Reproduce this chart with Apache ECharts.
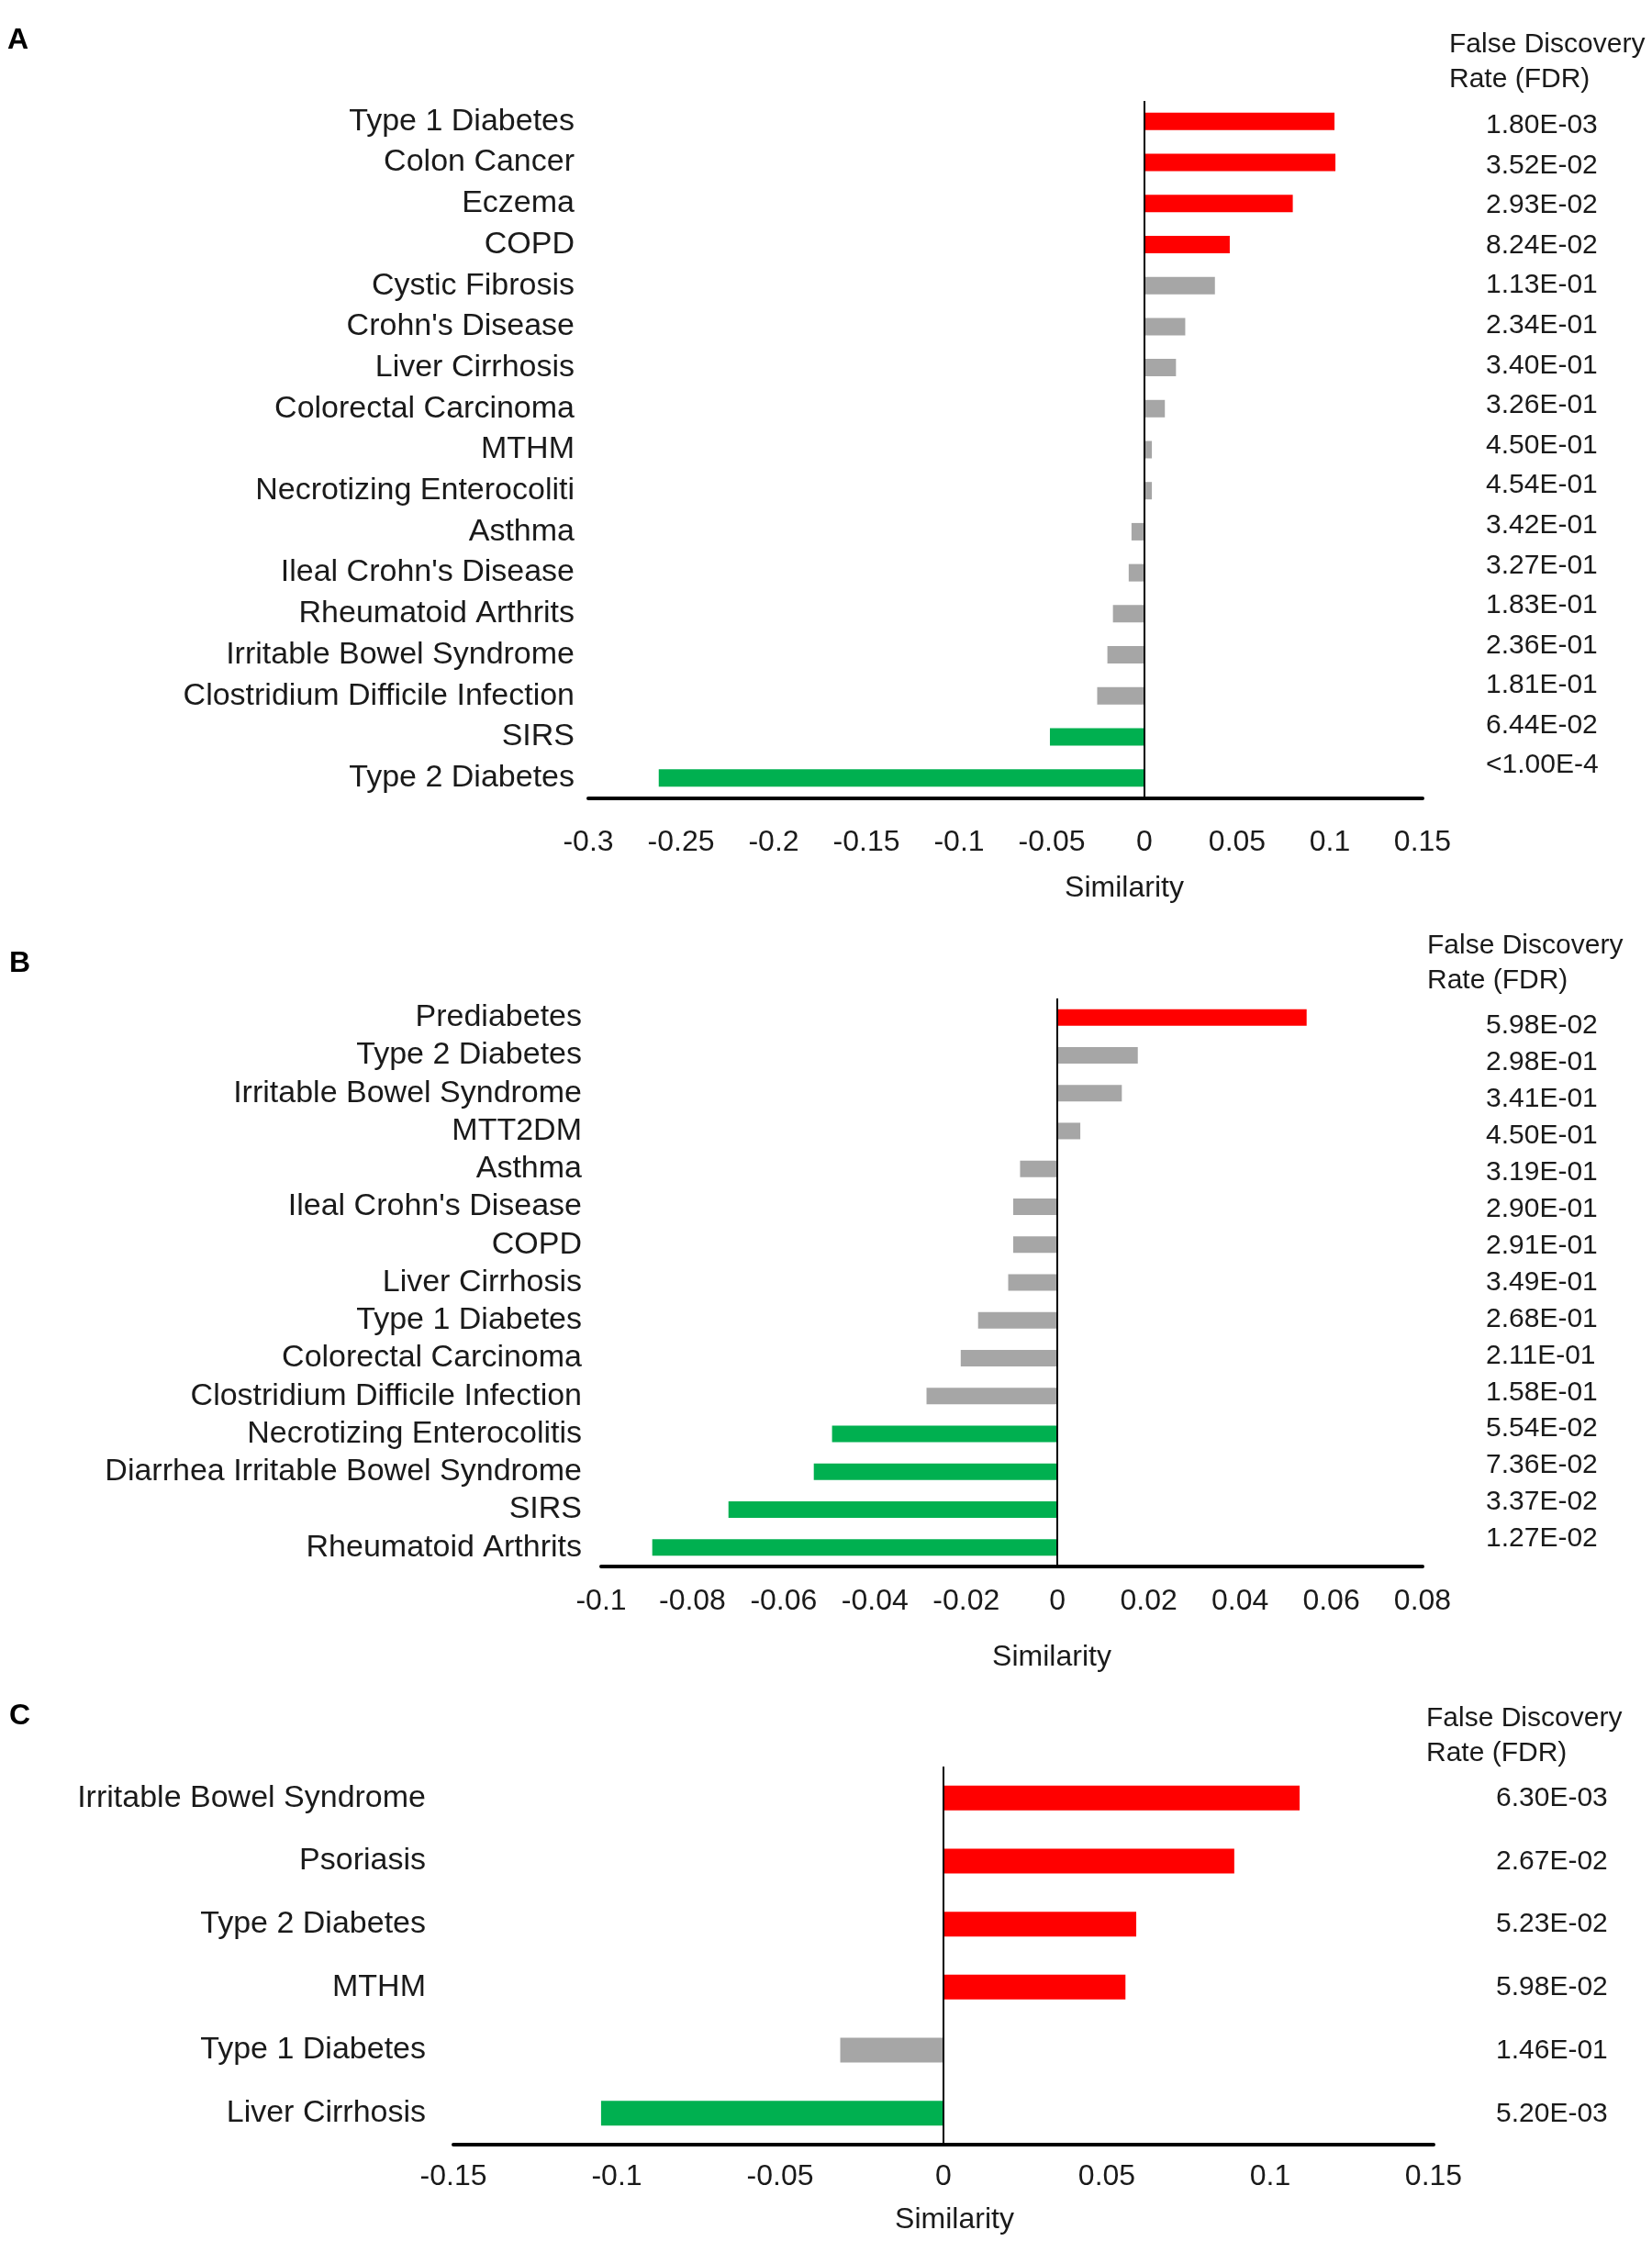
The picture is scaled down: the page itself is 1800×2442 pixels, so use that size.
<!DOCTYPE html>
<html>
<head>
<meta charset="utf-8">
<script src="https://cdn.jsdelivr.net/npm/echarts@6/dist/echarts.min.js"></script>
<style>
html,body{margin:0;padding:0;background:#fff;}
#chart{width:1800px;height:2442px;}
</style>
</head>
<body>
<div id="chart"></div>
<script>
// ---------- Panel A ----------
const aCategories = ["Type 1 Diabetes","Colon Cancer","Eczema","COPD","Cystic Fibrosis","Crohn's Disease","Liver Cirrhosis","Colorectal Carcinoma","MTHM","Necrotizing Enterocoliti","Asthma","Ileal Crohn's Disease","Rheumatoid Arthrits","Irritable Bowel Syndrome","Clostridium Difficile Infection","SIRS","Type 2 Diabetes"];
const aSimilarity = [0.1025,0.103,0.080,0.046,0.038,0.022,0.017,0.011,0.004,0.004,-0.007,-0.0085,-0.017,-0.020,-0.0255,-0.051,-0.262];
const aFdr = ["1.80E-03","3.52E-02","2.93E-02","8.24E-02","1.13E-01","2.34E-01","3.40E-01","3.26E-01","4.50E-01","4.54E-01","3.42E-01","3.27E-01","1.83E-01","2.36E-01","1.81E-01","6.44E-02","<1.00E-4"];
const aTicks = {min:-0.3, max:0.15, interval:0.05};

// ---------- Panel B ----------
const bCategories = ["Prediabetes","Type 2 Diabetes","Irritable Bowel Syndrome","MTT2DM","Asthma","Ileal Crohn's Disease","COPD","Liver Cirrhosis","Type 1 Diabetes","Colorectal Carcinoma","Clostridium Difficile Infection","Necrotizing Enterocolitis","Diarrhea Irritable Bowel Syndrome","SIRS","Rheumatoid Arthrits"];
const bSimilarity = [0.0546,0.0176,0.0141,0.005,-0.0082,-0.0097,-0.0097,-0.0108,-0.0174,-0.0212,-0.0287,-0.0494,-0.0534,-0.0721,-0.0888];
const bFdr = ["5.98E-02","2.98E-01","3.41E-01","4.50E-01","3.19E-01","2.90E-01","2.91E-01","3.49E-01","2.68E-01","2.11E-01","1.58E-01","5.54E-02","7.36E-02","3.37E-02","1.27E-02"];
const bTicks = {min:-0.1, max:0.08, interval:0.02};

// ---------- Panel C ----------
const cCategories = ["Irritable Bowel Syndrome","Psoriasis","Type 2 Diabetes","MTHM","Type 1 Diabetes","Liver Cirrhosis"];
const cSimilarity = [0.109,0.089,0.059,0.0557,-0.0316,-0.1048];
const cFdr = ["6.30E-03","2.67E-02","5.23E-02","5.98E-02","1.46E-01","5.20E-03"];
const cTicks = {min:-0.15, max:0.15, interval:0.05};

const RED = '#FF0000', GREEN = '#00B050', GRAY = '#A6A6A6';
const FONT = '"Liberation Sans", Arial, sans-serif';
const TXT = '#1a1a1a';

function barColor(v, fdrLabel){
  const f = parseFloat(fdrLabel.replace('<',''));
  if (f < 0.1) return v > 0 ? RED : GREEN;
  return GRAY;
}

const panels = [
  {cats:aCategories, vals:aSimilarity, fdr:aFdr, ticks:aTicks,
   grid:{left:641, top:110, width:909, height:760}, catMargin:15, tickMargin:32, barWidth:19,
   fdrGrid:{left:1611, top:115, width:8, height:741},
   letter:{x:8, y:46, t:'A'}, head:{x:1579, y:47}, sim:{x:1225, y:968}},
  {cats:bCategories, vals:bSimilarity, fdr:bFdr, ticks:bTicks,
   grid:{left:655, top:1088, width:895, height:619}, catMargin:21, tickMargin:22, barWidth:18,
   fdrGrid:{left:1611, top:1098, width:8, height:599},
   letter:{x:10, y:1052, t:'B'}, head:{x:1555, y:1029}, sim:{x:1146, y:1806}},
  {cats:cCategories, vals:cSimilarity, fdr:cFdr, ticks:cTicks,
   grid:{left:494, top:1925, width:1068, height:412}, catMargin:30, tickMargin:19, barWidth:27,
   fdrGrid:{left:1622, top:1925, width:8, height:413},
   letter:{x:10, y:1872, t:'C'}, head:{x:1554, y:1871}, sim:{x:1040, y:2419}}
];

const grid = [], xAxis = [], yAxis = [], series = [], graphic = [];
panels.forEach((p, i) => {
  const gi = grid.length;
  grid.push(Object.assign({containLabel:false}, p.grid));
  xAxis.push({
    type:'value', gridIndex:gi, min:p.ticks.min, max:p.ticks.max, interval:p.ticks.interval,
    axisLine:{show:true, onZero:false, lineStyle:{color:'#000', width:4}},
    axisTick:{show:false}, splitLine:{show:false},
    axisLabel:{margin:p.tickMargin, fontSize:32, fontFamily:FONT, color:TXT}
  });
  yAxis.push({
    type:'category', gridIndex:gi, data:p.cats, inverse:true,
    axisLine:{show:false}, axisTick:{show:false},
    axisLabel:{interval:0, margin:p.catMargin, fontSize:34, fontFamily:FONT, color:TXT, padding:[6,0,0,0]}
  });
  series.push({
    type:'bar', xAxisIndex:gi, yAxisIndex:gi, barWidth:p.barWidth,
    data:p.vals.map((v, k) => ({value:v, itemStyle:{color:barColor(v, p.fdr[k])}})),
    markLine:{silent:true, symbol:'none', label:{show:false},
      lineStyle:{color:'#000', width:2, type:'solid'}, data:[{xAxis:0}]}
  });
  // FDR column
  const fi = grid.length;
  grid.push(p.fdrGrid);
  xAxis.push({type:'value', gridIndex:fi, show:false, min:0, max:1});
  yAxis.push({
    type:'category', gridIndex:fi, data:p.fdr, inverse:true, position:'right',
    axisLine:{show:false}, axisTick:{show:false},
    axisLabel:{interval:0, margin:0, fontSize:30, fontFamily:FONT, color:TXT, align:'left', padding:[6,0,0,0]}
  });
  graphic.push({type:'text', left:p.letter.x, top:p.letter.y - 18,
    style:{text:p.letter.t, font:'bold 32px ' + FONT, fill:'#000'}});
  graphic.push({type:'text', left:p.head.x, top:p.head.y - 17,
    style:{text:'False Discovery\nRate (FDR)', font:'30px ' + FONT, fill:TXT, lineHeight:38}});
  graphic.push({type:'text', x:p.sim.x, y:p.sim.y,
    style:{text:'Similarity', font:'32px ' + FONT, fill:TXT, textAlign:'center', textVerticalAlign:'middle'}});
});

const chart = echarts.init(document.getElementById('chart'), null, {renderer:'canvas'});
chart.setOption({
  backgroundColor:'#fff',
  animation:false,
  grid, xAxis, yAxis, series, graphic
});
</script>
</body>
</html>
